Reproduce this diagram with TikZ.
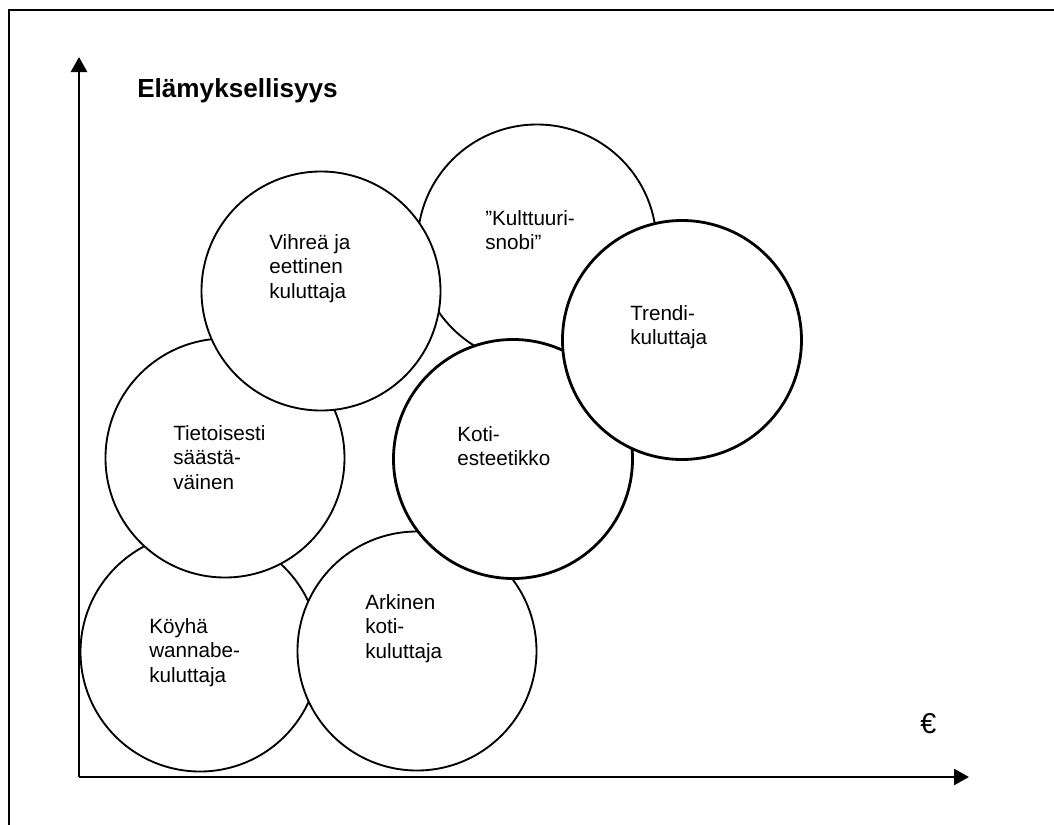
\documentclass[tikz,border=0pt]{standalone}
\usepackage{fontspec}
\setmainfont{Liberation Sans}
\usetikzlibrary{arrows.meta}

\newcommand{\bubbletext}[1]{\begin{tabular}[t]{@{}l@{}}#1\end{tabular}}

\begin{document}
\begin{tikzpicture}[x=0.75pt,y=-0.75pt,
  bubble/.style={circle, draw=black, fill=white, line width=1.4pt, inner sep=0pt, minimum size=239*0.75pt},
  boldbubble/.style={bubble, line width=2.1pt},
  lbl/.style={anchor=base west, inner sep=0pt, font=\fontsize{15.5}{18.4}\selectfont},
  axis/.style={line width=2pt, -{Triangle[length=11.25pt,width=12pt]}}]
  \useasboundingbox (0,0) rectangle (1054,825);

  % outer frame
  \draw[line width=1.5pt] (9,825) -- (9,10) -- (1054,10);

  % consumer groups, back to front
  \node[bubble] (koyha) at (200,652) {};
  \node[bubble] (tietoisesti) at (225,458) {};
  \node[bubble] (arkinen) at (417,651) {};
  \node[bubble] (kulttuuri) at (537,244) {};
  \node[bubble] (vihrea) at (321,291) {};
  \node[boldbubble] (koti) at (513,459) {};
  \node[boldbubble] (trendi) at (682,340) {};

  \node[lbl] (tkoyha) at (149,633) {\bubbletext{Köyhä\\wannabe-\\kuluttaja}};
  \node[lbl] (ttietoisesti) at (173,440) {\bubbletext{Tietoisesti\\säästä-\\väinen}};
  \node[lbl] (tarkinen) at (365,609) {\bubbletext{Arkinen\\koti-\\kuluttaja}};
  \node[lbl] (tkulttuuri) at (485,225) {\bubbletext{”Kulttuuri-\\snobi”}};
  \node[lbl] (tvihrea) at (269,249) {\bubbletext{Vihreä ja\\eettinen\\kuluttaja}};
  \node[lbl] (tkoti) at (457,441) {\bubbletext{Koti-\\esteetikko}};
  \node[lbl] (ttrendi) at (630,320) {\bubbletext{Trendi-\\kuluttaja}};

  % axes
  \coordinate (origin) at (79,777);
  \coordinate (ytip) at (79,57);
  \coordinate (xtip) at (969,777);
  \draw[axis] (origin) -- (ytip);
  \draw[axis] (origin) -- (xtip);

  \node[anchor=base west, inner sep=0pt, font=\bfseries\fontsize{19.6}{23}\selectfont] (ytitle) at (137,97) {Elämyksellisyys};
  \node[anchor=base west, inner sep=0pt, font=\fontsize{21.5}{25}\selectfont] (euro) at (920,733) {€};
\end{tikzpicture}
\end{document}
